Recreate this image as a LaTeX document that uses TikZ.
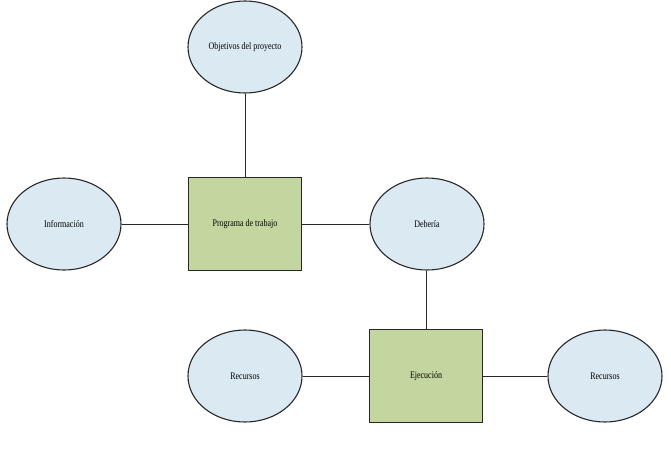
\documentclass[tikz,border=0pt]{standalone}
\usepackage{fontspec}
\setmainfont[FakeStretch=0.8]{Liberation Serif}
\usepackage{tikz}
\usetikzlibrary{shapes.geometric}

\definecolor{ovalfill}{RGB}{219,234,242}
\definecolor{boxfill}{RGB}{196,214,160}
\definecolor{edgegray}{RGB}{40,40,40}

\begin{document}
\begin{tikzpicture}[x=1pt,y=-1pt,
  oval/.style={ellipse, draw=edgegray, line width=1.1pt, fill=ovalfill,
    minimum width=114pt, minimum height=92pt, inner sep=0pt, font=\fontsize{10}{12}\selectfont},
  task/.style={rectangle, draw=edgegray, line width=1.1pt, fill=boxfill,
    minimum width=113pt, minimum height=93pt, inner sep=0pt, font=\fontsize{10}{12}\selectfont},
  link/.style={draw=edgegray, line width=0.9pt}]

\useasboundingbox (0,0) rectangle (671,453);

\node [oval] (objetivos) at (245,47) {Objetivos del proyecto};
\node [oval] (informacion) at (64,224) {Información};
\node [task] (programa) at (245,224) {Programa de trabajo};
\node [oval] (deberia) at (427,224) {Debería};

\node [task] (ejecucion) at (426,376) {Ejecución};
\node [oval] (recursosA) at (245,376) {Recursos};
\node [oval] (recursosB) at (605,376) {Recursos};

\draw [link] (objetivos) -- (programa);
\draw [link] (informacion) -- (programa);
\draw [link] (programa) -- (deberia);
\draw [link] (deberia.south -| ejecucion) -- (ejecucion);
\draw [link] (recursosA) -- (ejecucion);
\draw [link] (ejecucion) -- (recursosB);

\end{tikzpicture}
\end{document}
